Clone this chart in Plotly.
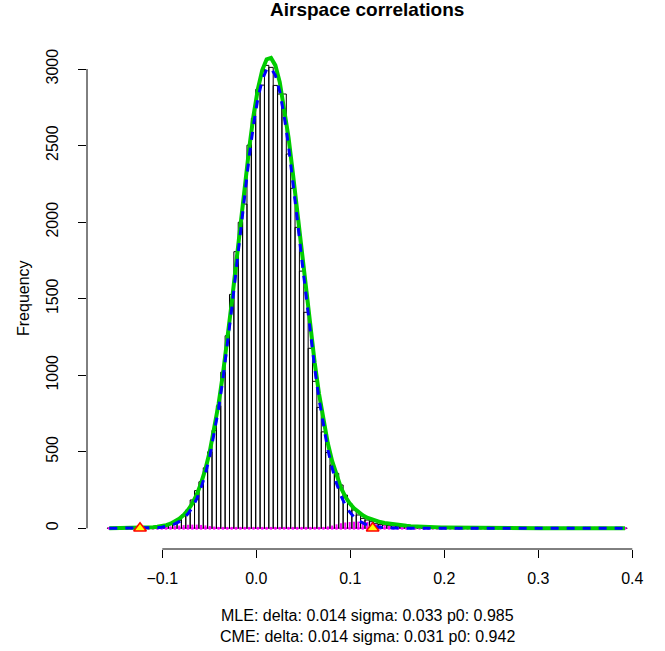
import numpy as np
import plotly.graph_objects as go

# ---- data ----
bin_lo, bin_hi = -0.15870, 0.39453   # histogram break range (119 bins)

counts = [
    1, 0, 0, 1, 0, 1, 1, 2, 3, 4,
    7, 9, 12, 17, 25, 38, 52, 87, 120, 185,
    246, 304, 395, 500, 640, 800, 1020, 1258, 1528, 1807,
    1999, 2118, 2503, 2678, 2867, 2895, 3024, 3011, 2893, 2837,
    2837, 2445, 2221, 1966, 1680, 1411, 1176, 960, 790, 630,
    495, 413, 359, 283, 217, 163, 120, 87, 65, 54,
    43, 30, 25, 21, 18, 15, 12, 11, 9, 8,
    7, 6, 6, 5, 4, 4, 3, 3, 3, 2,
    2, 2, 1, 2, 1, 1, 1, 0, 1, 1,
    0, 1, 0, 0, 1, 0, 0, 1, 0, 0,
    1, 0, 0, 0, 0, 1, 0, 0, 0, 0,
    0, 0, 1, 0, 0, 0, 0, 0, 1,
]

nonnull_counts = [
    1, 0, 0, 1, 0, 1, 1, 2, 2, 3,
    5, 6, 8, 10, 13, 16, 18, 21, 23, 24,
    24, 22, 19, 15, 11, 8, 5, 3, 2, 0,
    0, 0, 0, 0, 0, 0, 0, 0, 0, 0,
    0, 0, 0, 0, 0, 0, 0, 2, 4, 7,
    12, 18, 26, 33, 38, 41, 43, 44, 44, 42,
    36, 27, 23, 20, 17, 14, 11, 10, 8, 7,
    6, 5, 5, 4, 4, 4, 3, 3, 3, 2,
    2, 2, 1, 2, 1, 1, 1, 0, 1, 1,
    0, 1, 0, 0, 1, 0, 0, 1, 0, 0,
    1, 0, 0, 0, 0, 1, 0, 0, 0, 0,
    0, 0, 1, 0, 0, 0, 0, 0, 1,
]

fit_total = [
    0.5, 0.5, 0.6, 0.8, 1.0, 1.3, 2.0, 2.7, 3.7, 5.0,
    7, 10, 14, 21, 30, 43, 62, 86, 119, 162,
    220, 295, 387, 503, 646, 812, 1008, 1229, 1470, 1723,
    1986, 2244, 2480, 2696, 2870, 2993, 3064, 3073, 3024, 2915,
    2754, 2556, 2321, 2068, 1812, 1553, 1305, 1081, 877, 702,
    555, 438, 340, 265, 207, 163, 131, 105, 85, 69,
    58, 49, 41, 35, 30, 25, 22, 18, 16, 14,
    12, 10.5, 9, 8, 7, 6, 5.4, 4.8, 4.3, 3.8,
    3.4, 3.0, 2.7, 2.4, 2.2, 2.0, 1.8, 1.6, 1.5, 1.4,
    1.3, 1.25, 1.2, 1.15, 1.1, 1.05, 1.0, 1.0, 0.95, 0.9,
    0.9, 0.85, 0.85, 0.8, 0.8, 0.8, 0.75, 0.75, 0.7, 0.7,
    0.7, 0.7, 0.65, 0.65, 0.65, 0.6, 0.6, 0.6, 0.6,
]

fit_null = [
    0, 0, 0, 0, 0, 0, 0.3, 0.5, 0.9, 1.5,
    2.6, 4.4, 7.2, 11.7, 18.5, 28.5, 43.5, 65, 95, 136,
    192, 265, 356, 472, 615, 780, 975, 1194, 1432, 1681,
    1939, 2193, 2425, 2636, 2808, 2929, 2998, 3007, 2959, 2852,
    2695, 2501, 2271, 2021, 1768, 1513, 1268, 1046, 842, 665,
    515, 393, 292, 213, 153, 107, 74, 50, 33, 21,
    13.5, 8.5, 5.2, 3.1, 1.8, 1.0, 0.6, 0.3, 0.2, 0.1,
] + [0] * 49

cutoffs = [-0.1237, 0.1238]

x_ticks = [-0.1, 0.0, 0.1, 0.2, 0.3, 0.4]
x_labels = ["\u22120.1", "0.0", "0.1", "0.2", "0.3", "0.4"]
y_ticks = [0, 500, 1000, 1500, 2000, 2500, 3000]
y_labels = ["0", "500", "1000", "1500", "2000", "2500", "3000"]

title = "Airspace correlations"
y_title = "Frequency"
mle_line = "MLE: delta: 0.014 sigma: 0.033 p0: 0.985"
cme_line = "CME: delta: 0.014 sigma: 0.031 p0: 0.942"

# ---- derived bin geometry ----
nb = len(counts)
width = (bin_hi - bin_lo) / nb
mids = bin_lo + width * (np.arange(nb) + 0.5)

FONT = "Liberation Sans, Arial, Helvetica, sans-serif"

fig = go.Figure()

# histogram bars (outline only)
fig.add_trace(go.Bar(
    x=mids, y=counts, width=width,
    marker=dict(color="rgba(0,0,0,0)", line=dict(color="black", width=1)),
    hoverinfo="skip", showlegend=False,
))

# non-null counts as magenta sticks
sx, sy = [], []
for m, v in zip(mids, nonnull_counts):
    sx += [m, m, None]
    sy += [0, v, None]
fig.add_trace(go.Scatter(x=sx, y=sy, mode="lines",
                         line=dict(color="#FF00FF", width=2),
                         hoverinfo="skip", showlegend=False))
fig.add_trace(go.Scatter(x=mids, y=[0] * nb, mode="markers",
                         marker=dict(color="#FF00FF", size=3),
                         hoverinfo="skip", showlegend=False))

# fitted mixture density (green) and null (blue dashed)
fig.add_trace(go.Scatter(x=mids, y=fit_total, mode="lines",
                         line=dict(color="#00CD00", width=4),
                         hoverinfo="skip", showlegend=False))
fig.add_trace(go.Scatter(x=mids, y=fit_null, mode="lines",
                         line=dict(color="#0000FF", width=3, dash="8px,8px"),
                         hoverinfo="skip", showlegend=False))

# fdr cutoff triangles
fig.add_trace(go.Scatter(x=cutoffs, y=[0] * len(cutoffs), mode="markers",
                         marker=dict(symbol="triangle-up", size=11, color="yellow",
                                     line=dict(color="red", width=1.5)),
                         hoverinfo="skip", showlegend=False))

# axis lines spanning first..last tick (R style)
fig.add_shape(type="line", xref="x", yref="paper",
              x0=x_ticks[0], x1=x_ticks[-1], y0=0, y1=0,
              line=dict(color="black", width=1))
fig.add_shape(type="line", xref="paper", yref="y",
              x0=0, x1=0, y0=y_ticks[0], y1=y_ticks[-1],
              line=dict(color="black", width=1))

fig.update_layout(
    width=665, height=651,
    margin=dict(l=87, r=18, t=47, b=102),
    paper_bgcolor="white", plot_bgcolor="white",
    barmode="overlay", bargap=0,
    showlegend=False,
    font=dict(family=FONT, size=16, color="black"),
    xaxis=dict(range=[-0.18011, 0.41564], tickvals=x_ticks, ticktext=x_labels,
               ticks="outside", ticklen=8, tickwidth=1, tickcolor="black",
               ticklabelstandoff=7,
               showline=False, showgrid=False, zeroline=False,
               tickfont=dict(size=16, family=FONT, color="black")),
    yaxis=dict(range=[-135.2, 3144], tickvals=y_ticks, ticktext=y_labels,
               ticks="outside", ticklen=8, tickwidth=1, tickcolor="black",
               tickangle=-90, ticklabelstandoff=14,
               showline=False, showgrid=False, zeroline=False,
               tickfont=dict(size=16, family=FONT, color="black")),
    annotations=[
        dict(text="<b>%s</b>" % title, xref="paper", yref="paper", x=0.5, y=1,
             xanchor="center", yanchor="bottom", yshift=25, showarrow=False,
             font=dict(size=19, family=FONT, color="black")),
        dict(text=y_title, xref="paper", yref="paper", x=0, y=0.5, textangle=-90,
             xanchor="center", yanchor="middle", xshift=-64, showarrow=False,
             font=dict(size=16, family=FONT, color="black")),
        dict(text=mle_line, xref="paper", yref="paper", x=0.5, y=0,
             xanchor="center", yanchor="middle", yshift=-66, showarrow=False,
             font=dict(size=16, family=FONT, color="black")),
        dict(text=cme_line, xref="paper", yref="paper", x=0.5, y=0,
             xanchor="center", yanchor="middle", yshift=-87.5, showarrow=False,
             font=dict(size=16, family=FONT, color="black")),
    ],
)

fig.write_html(
    "out.html",
    config={"displayModeBar": False, "staticPlot": True},
    post_script="document.body.style.margin='0';document.body.style.overflow='hidden';",
)
